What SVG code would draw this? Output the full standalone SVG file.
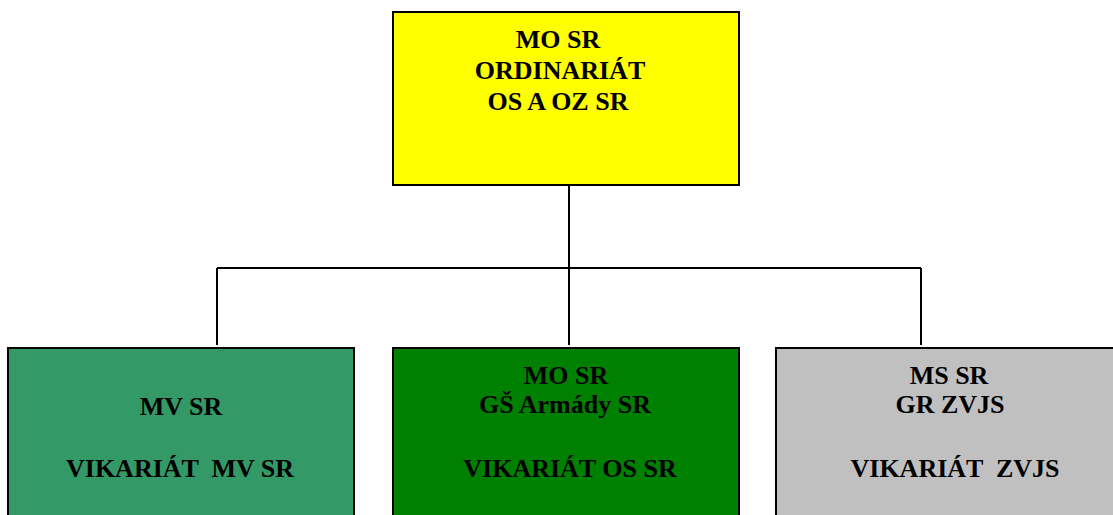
<svg xmlns="http://www.w3.org/2000/svg" width="1113" height="515" viewBox="0 0 1113 515">
<style>
.box{stroke:#000;stroke-width:2}
.t{font-family:"Liberation Serif","Times New Roman",serif;font-weight:bold;font-size:26px;fill:#000;text-anchor:middle;white-space:pre}
.c{stroke:#000;stroke-width:2;fill:none}
</style>
<rect width="1113" height="515" fill="#fff"/>
<g id="connectors">
<path class="c" d="M569 186V268"/>
<path class="c" d="M217 268H921"/>
<path class="c" d="M217 268V345M569 268V345M921 268V345"/>
</g>
<g id="top">
<rect class="box" x="393" y="12" width="346" height="173" fill="#ffff00"/>
<text class="t" x="558" y="48">MO SR</text>
<text class="t" x="560" y="79">ORDINARIÁT</text>
<text class="t" x="558" y="110">OS A OZ SR</text>
</g>
<g id="mv">
<rect class="box" x="8" y="348" width="346" height="180" fill="#339966"/>
<text class="t" x="181" y="415">MV SR</text>
<text class="t" x="180" y="477" xml:space="preserve">VIKARIÁT  MV SR</text>
</g>
<g id="os">
<rect class="box" x="393" y="348" width="346" height="180" fill="#008000"/>
<text class="t" x="566" y="384">MO SR</text>
<text class="t" x="565" y="413">GŠ Armády SR</text>
<text class="t" x="570" y="477">VIKARIÁT OS SR</text>
</g>
<g id="zvjs">
<rect class="box" x="776" y="348" width="346" height="180" fill="#c0c0c0"/>
<text class="t" x="949" y="384">MS SR</text>
<text class="t" x="950" y="413">GR ZVJS</text>
<text class="t" x="955" y="477" xml:space="preserve">VIKARIÁT  ZVJS</text>
</g>
</svg>
